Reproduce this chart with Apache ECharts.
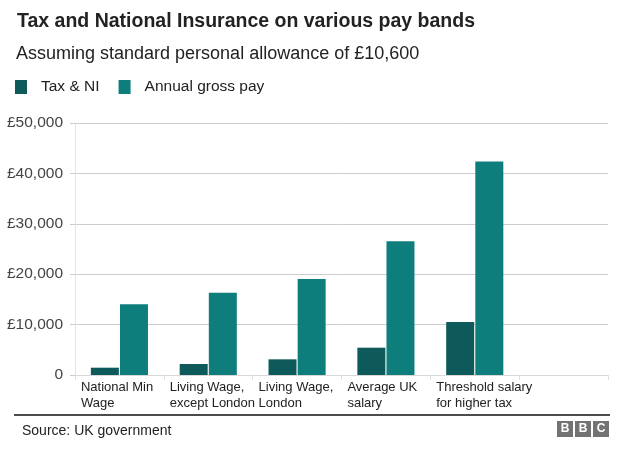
<!DOCTYPE html>
<html>
<head>
<meta charset="utf-8">
<script src="https://cdn.jsdelivr.net/npm/echarts@6/dist/echarts.min.js"></script>
<style>html,body{margin:0;padding:0;background:#fff}#c{width:624px;height:459px}</style>
</head>
<body>
<div id="c"></div>
<script>
const categories = ["National Min\nWage", "Living Wage,\nexcept London", "Living Wage,\nLondon", "Average UK\nsalary", "Threshold salary\nfor higher tax", ""];
const taxNI = [1450, 2180, 3110, 5420, 10500, null];
const grossPay = [14030, 16330, 19050, 26530, 42385, null];
const yTicks = [0, 10000, 20000, 30000, 40000, 50000];

const font = 'Liberation Sans, Arial, Helvetica, sans-serif';
const chart = echarts.init(document.getElementById('c'));
chart.setOption({
  animation: false,
  textStyle: { fontFamily: font },
  title: [
    { text: 'Tax and National Insurance on various pay bands', left: 12, top: 7,
      textStyle: { fontFamily: font, fontSize: 19.5, fontWeight: 'bold', color: '#222' } },
    { text: 'Assuming standard personal allowance of £10,600', left: 11, top: 40,
      textStyle: { fontFamily: font, fontSize: 18, fontWeight: 'normal', color: '#222' } }
  ],
  legend: {
    left: 10, top: 74, icon: 'rect', itemWidth: 12, itemHeight: 14, itemGap: 19,
    textStyle: { fontFamily: font, fontSize: 15.5, color: '#222', padding: [0, 0, 0, 9] },
    data: ['Tax & NI', 'Annual gross pay']
  },
  grid: { left: 75, right: 16, top: 123, bottom: 84, containLabel: false },
  xAxis: {
    type: 'category', data: categories,
    axisLine: { show: true, lineStyle: { color: '#d8d8d8' } },
    axisTick: { show: true, length: 5, lineStyle: { color: '#e0e0e0' } },
    axisLabel: {
      margin: 4, interval: 0, align: 'center',
      formatter: function (v) { return v.split('\n').map(function (s) { return '{a|' + s + '}'; }).join('\n'); },
      rich: { a: { width: 77, align: 'left', fontSize: 13, lineHeight: 16, color: '#222', fontFamily: font } }
    }
  },
  yAxis: {
    type: 'value', min: 0, max: 50000, interval: 10000,
    axisLine: { show: true, lineStyle: { color: '#e4e4e4' } },
    axisTick: { show: true, length: 5, lineStyle: { color: '#cccccc' } },
    splitLine: { lineStyle: { color: '#cccccc' } },
    axisLabel: {
      margin: 12, fontSize: 15.5, color: '#444', fontFamily: font,
      formatter: function (v) { return yTicks.indexOf(v) >= 0 && v !== 0 ? '£' + v.toLocaleString('en-GB') : (v === 0 ? '0' : ''); }
    }
  },
  series: [
    { name: 'Tax & NI', type: 'bar', data: taxNI, barWidth: 28, barGap: '4%',
      itemStyle: { color: '#0e5a5a' } },
    { name: 'Annual gross pay', type: 'bar', data: grossPay, barWidth: 28,
      itemStyle: { color: '#0e7e7c' } }
  ],
  graphic: [
    { type: 'line', shape: { x1: 14, y1: 415, x2: 610, y2: 415 }, style: { stroke: '#111', lineWidth: 1.5 } },
    { type: 'text', left: 22, top: 424, style: { text: 'Source: UK government', font: '14px ' + font, fill: '#222' } },
    { type: 'group', left: 557, top: 421, children: [
      { type: 'rect', shape: { x: 0, y: 0, width: 16, height: 16 }, style: { fill: '#737373' } },
      { type: 'text', x: 8, y: 8, style: { text: 'B', font: 'bold 12px ' + font, fill: '#fff', align: 'center', verticalAlign: 'middle' } },
      { type: 'rect', shape: { x: 18, y: 0, width: 16, height: 16 }, style: { fill: '#737373' } },
      { type: 'text', x: 26, y: 8, style: { text: 'B', font: 'bold 12px ' + font, fill: '#fff', align: 'center', verticalAlign: 'middle' } },
      { type: 'rect', shape: { x: 36, y: 0, width: 16, height: 16 }, style: { fill: '#737373' } },
      { type: 'text', x: 44, y: 8, style: { text: 'C', font: 'bold 12px ' + font, fill: '#fff', align: 'center', verticalAlign: 'middle' } }
    ] }
  ]
});
</script>
</body>
</html>
